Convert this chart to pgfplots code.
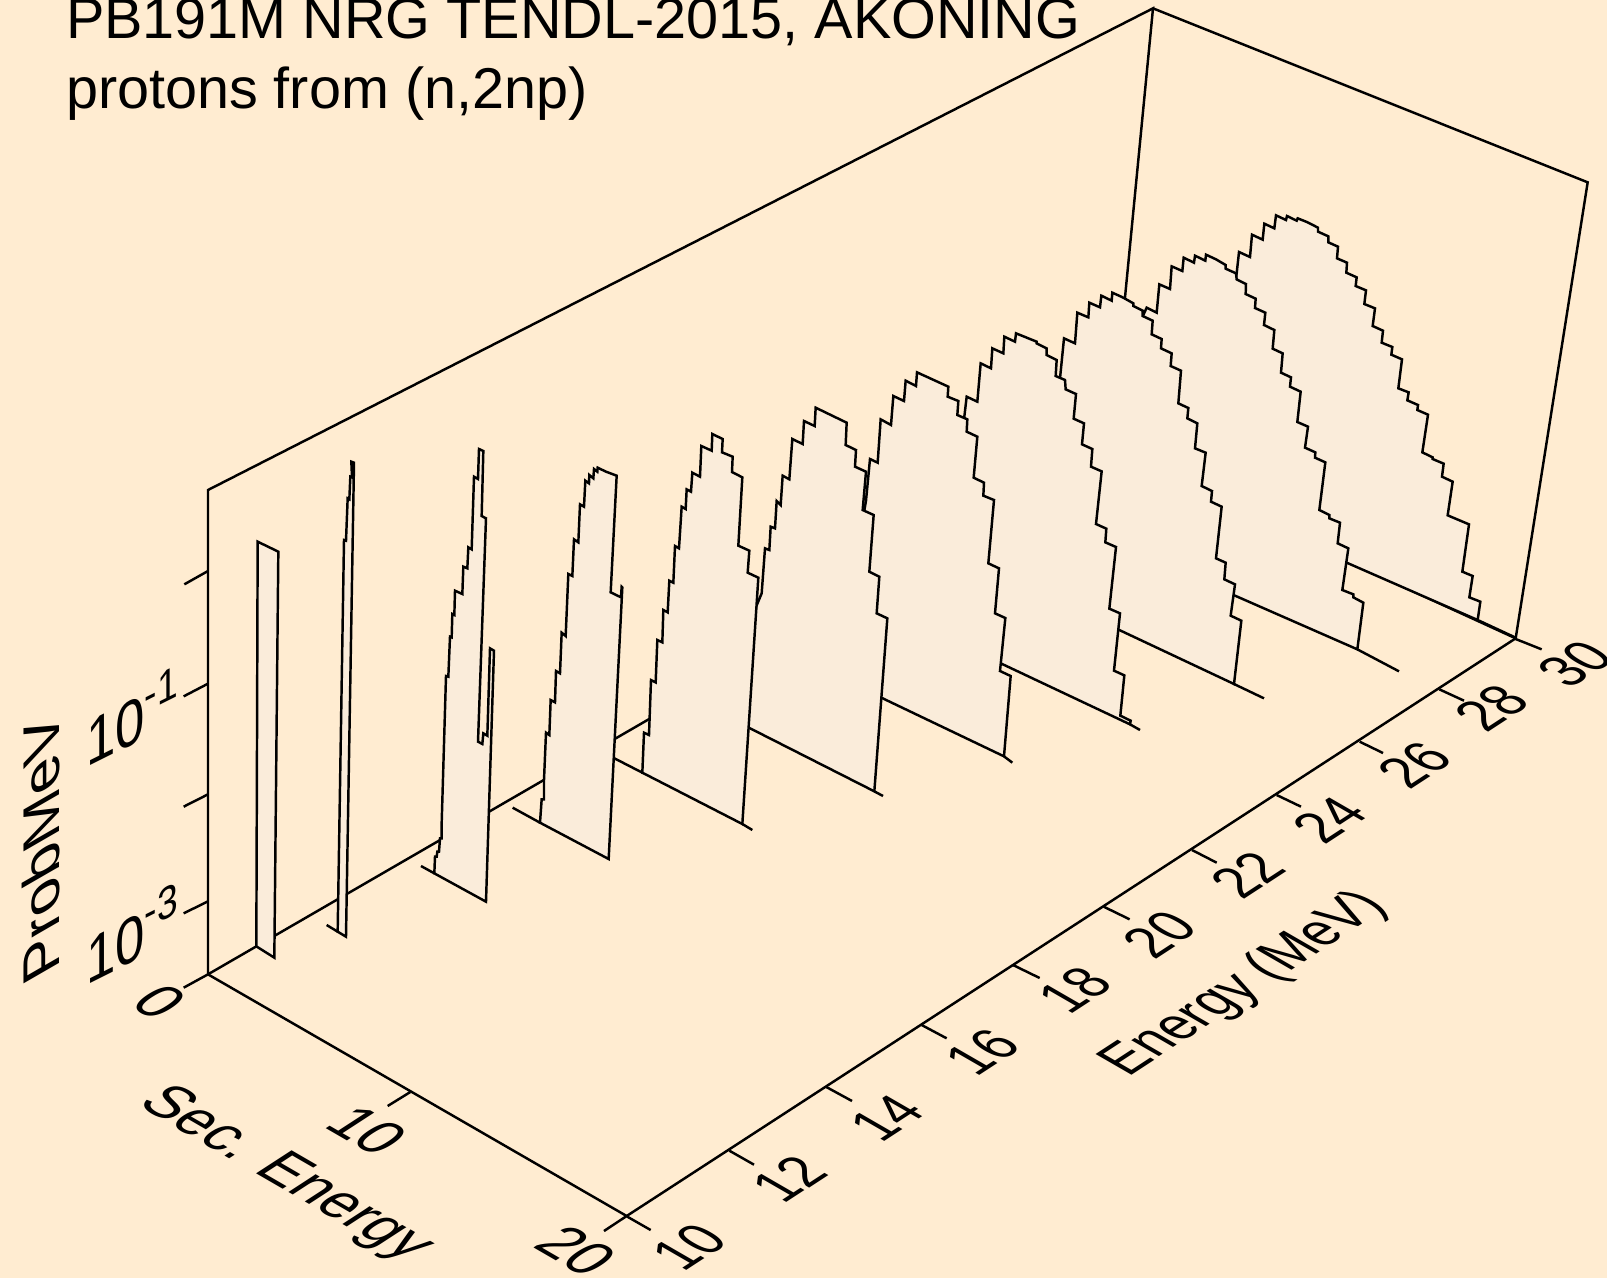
\documentclass[border=0pt]{standalone}
\usepackage{fontspec}
\setmainfont{Liberation Sans}
\usepackage{pgfplots}
\pgfplotsset{compat=1.18}
\definecolor{bgc}{RGB}{255,236,209}
\definecolor{fillc}{RGB}{250,236,218}
\newcommand{\lf}{\fontsize{16.33pt}{16.33pt}\selectfont}
\newcommand{\supr}[1]{\raisebox{0.4em}{\fontsize{11.5pt}{11.5pt}\selectfont #1}}
\tikzset{
  ln/.style={black, line width=0.7pt, mark=none, line join=miter},
  curve/.style={ln, fill=fillc},
  lab/.style={inner sep=0pt, outer sep=0pt, transform shape, anchor=base west, font=\lf},
  slab/.style={lab, cm={0.855,-0.495,0.9,0.585,(0,0)}},
  elab/.style={lab, cm={0.735,0.48,-0.91,0.525,(0,0)}},
  zlab/.style={lab, cm={0.92,0.46,0,1.13,(0,0)}},
}
\begin{document}
\begin{tikzpicture}
\useasboundingbox (0,0) rectangle (16.07cm,12.78cm);
\clip (0,0) rectangle (16.07cm,12.78cm);
\fill[bgc] (0,0) rectangle (16.07cm,12.78cm);
\begin{axis}[
  scale only axis, width=16.07cm, height=12.78cm,
  xmin=0, xmax=4821, ymin=0, ymax=3834, y dir=reverse,
  hide axis, clip=false,
]
% back edges of the box
\addplot[ln] coordinates {(624,2923)(3330,1357)(3459,25)(624,1470)(624,2923)};
\addplot[ln] coordinates {(3459,25)(4763,547)(4547,1915)};
\addplot[ln] coordinates {(3330,1357)(4547,1915)};
% E = 30
\addplot[curve] table[row sep=crcr] {x y\\
3590 1491\\3710 820\\3717 756\\3750 771\\3756 704\\3788 719\\3793 671\\3823 685\\3828 646\\3858 660\\3861 648\\3890 662\\3893 655\\3923 667\\3954 683\\3954 695\\3985 709\\3985 727\\4014 740\\4011 775\\4041 788\\4039 818\\4070 832\\4067 858\\4098 871\\4093 912\\4125 925\\4118 978\\4149 992\\4145 1028\\4177 1041\\4174 1064\\4206 1078\\4195 1165\\4226 1177\\4222 1201\\4254 1215\\4252 1230\\4284 1244\\4267 1357\\4298 1372\\4298 1377\\4331 1391\\4326 1430\\4358 1445\\4343 1546\\4407 1573\\4387 1715\\4418 1728\\4408 1792\\4441 1805\\4433 1860\\
} --cycle;
\addplot[ln] coordinates {(4433,1860)(4545,1912)};
% E = 28
\addplot[curve] table[row sep=crcr] {x y\\
3320 1618\\3430 945\\3440 923\\3470 938\\3478 853\\3510 867\\3515 799\\3547 813\\3551 773\\3582 788\\3585 767\\3616 782\\3618 764\\3648 778\\3677 795\\3677 806\\3708 820\\3710 838\\3738 852\\3737 882\\3767 896\\3765 924\\3796 938\\3792 975\\3823 990\\3818 1046\\3848 1060\\3843 1118\\3873 1132\\3870 1160\\3902 1175\\3892 1266\\3924 1280\\3915 1343\\3946 1357\\3945 1373\\3976 1387\\3958 1530\\3988 1545\\3988 1555\\4020 1568\\4013 1630\\4045 1645\\4027 1770\\4060 1783\\4060 1792\\4090 1808\\4072 1948\\
} --cycle;
\addplot[ln] coordinates {(4072,1948)(4197,2014)};
% E = 26
\addplot[curve] table[row sep=crcr] {x y\\
3050 1745\\3180 1135\\3192 1015\\3225 1030\\3232 938\\3265 952\\3268 908\\3300 922\\3304 887\\3335 902\\3337 878\\3368 892\\3400 910\\3400 918\\3428 932\\3428 948\\3458 962\\3455 1003\\3485 1017\\3483 1045\\3515 1060\\3512 1098\\3543 1112\\3535 1210\\3565 1224\\3562 1255\\3592 1270\\3585 1345\\3617 1358\\3605 1458\\3636 1473\\3633 1505\\3665 1520\\3648 1675\\3677 1688\\3673 1738\\3705 1753\\3692 1847\\3724 1862\\3702 2052\\
} --cycle;
\addplot[ln] coordinates {(3702,2052)(3792,2095)};
% E = 24
\addplot[curve] table[row sep=crcr] {x y\\
2820 1904\\2893 1250\\2900 1190\\2932 1205\\2942 1090\\2973 1105\\2977 1045\\3010 1060\\3013 1010\\3045 1025\\3048 1000\\3110 1025\\3110 1030\\3140 1045\\3140 1065\\3170 1080\\3167 1128\\3195 1140\\3197 1168\\3228 1182\\3221 1256\\3252 1270\\3246 1333\\3277 1347\\3273 1400\\3305 1414\\3288 1572\\3319 1586\\3316 1627\\3348 1641\\3328 1826\\3360 1840\\3342 2012\\3373 2026\\3361 2147\\3392 2162\\3390 2173\\
} --cycle;
\addplot[ln] coordinates {(3390,2173)(3420,2190)};
% E = 22
\addplot[curve] table[row sep=crcr] {x y\\
2510 2029\\2598 1502\\2610 1377\\2633 1388\\2642 1258\\2673 1275\\2680 1188\\2712 1203\\2717 1142\\2748 1158\\2751 1117\\2845 1160\\2843 1190\\2875 1203\\2872 1245\\2902 1258\\2900 1295\\2932 1310\\2921 1433\\2952 1448\\2950 1487\\2982 1500\\2965 1690\\2997 1705\\2985 1840\\3016 1854\\3000 2013\\3032 2028\\3012 2269\\
} --cycle;
\addplot[ln] coordinates {(3012,2269)(3037,2288)};
% E = 20
\addplot[curve] table[row sep=crcr] {x y\\
2140 2129\\2285 1780\\2295 1645\\2308 1650\\2312 1580\\2325 1585\\2330 1503\\2342 1515\\2348 1427\\2368 1438\\2377 1317\\2408 1332\\2412 1263\\2444 1278\\2447 1223\\2540 1268\\2537 1335\\2568 1350\\2565 1400\\2598 1415\\2588 1530\\2621 1545\\2608 1715\\2638 1730\\2630 1840\\2662 1855\\2623 2374\\
} --cycle;
\addplot[ln] coordinates {(2623,2374)(2649,2388)};
% E = 18
\addplot[curve] table[row sep=crcr] {x y\\
1927 2318\\1932 2198\\1947 2205\\1953 2040\\1967 2047\\1972 1920\\1987 1927\\1990 1830\\2003 1837\\2008 1742\\2020 1748\\2025 1638\\2037 1645\\2045 1520\\2057 1527\\2060 1468\\2073 1475\\2077 1418\\2100 1430\\2104 1338\\2135 1352\\2137 1302\\2168 1317\\2166 1357\\2198 1370\\2196 1416\\2227 1432\\2215 1637\\2248 1652\\2243 1718\\2275 1733\\2227 2472\\
} --cycle;
\addplot[ln] coordinates {(1820,2263)(1927,2318)};
\addplot[ln] coordinates {(2227,2472)(2257,2490)};
% E = 16
\addplot[curve] table[row sep=crcr] {x y\\
1620 2468\\1625 2398\\1632 2398\\1632 2340\\1638 2198\\1648 2205\\1652 2100\\1665 2107\\1668 2013\\1680 2020\\1685 1898\\1697 1908\\1705 1722\\1717 1728\\1722 1618\\1735 1627\\1740 1513\\1752 1520\\1756 1442\\1767 1450\\1768 1425\\1780 1435\\1782 1407\\1792 1415\\1793 1403\\1818 1415\\1850 1427\\1832 1777\\1863 1792\\1865 1760\\1867 1762\\1826 2577\\
} --cycle;
\addplot[ln] coordinates {(1538,2423)(1620,2468)};
% E = 14
\addplot[curve] table[row sep=crcr] {x y\\
1303 2620\\1305 2570\\1310 2570\\1312 2555\\1317 2555\\1320 2515\\1325 2515\\1325 2470\\1338 2028\\1345 2030\\1350 1910\\1355 1912\\1357 1842\\1363 1845\\1365 1772\\1387 1782\\1390 1700\\1402 1705\\1405 1642\\1415 1648\\1422 1430\\1434 1437\\1437 1347\\1450 1353\\1445 1548\\1458 1555\\1434 2225\\1447 2232\\1450 2200\\1462 2207\\1470 1945\\1482 1952\\1458 2705\\
} --cycle;
\addplot[ln] coordinates {(1263,2598)(1303,2620)};
% E = 12
\addplot[curve] table[row sep=crcr] {x y\\
1013 2795\\1032 1620\\1038 1622\\1043 1495\\1048 1498\\1051 1430\\1056 1432\\1054 1385\\1062 1388\\1038 2810\\
} --cycle;
\addplot[ln] coordinates {(980,2775)(1013,2795)};
% E = 11
\addplot[curve] table[row sep=crcr] {x y\\
769 2839\\773 1625\\835 1655\\823 2873\\
} --cycle;
% front edges of the box
\addplot[ln] coordinates {(624,2923)(1880,3648)(4547,1915)};
% ticks
\addplot[ln] coordinates {(551,2963)(624,2923)};
\addplot[ln] coordinates {(551,2740)(624,2704)};
\addplot[ln] coordinates {(551,2420)(624,2383)};
\addplot[ln] coordinates {(551,2089)(624,2051)};
\addplot[ln] coordinates {(553,1753)(624,1713)};
\addplot[ln] coordinates {(1163,3318)(1231,3276)};
\addplot[ln] coordinates {(1812,3693)(1880,3648)};
\addplot[ln] coordinates {(1882,3650)(1952,3690)};
\addplot[ln] coordinates {(2188,3452)(2262,3494)};
\addplot[ln] coordinates {(2479,3261)(2556,3303)};
\addplot[ln] coordinates {(2765,3075)(2840,3115)};
\addplot[ln] coordinates {(3041,2896)(3119,2934)};
\addplot[ln] coordinates {(3311,2720)(3389,2758)};
\addplot[ln] coordinates {(3576,2550)(3650,2588)};
\addplot[ln] coordinates {(3830,2385)(3903,2420)};
\addplot[ln] coordinates {(4079,2225)(4149,2259)};
\addplot[ln] coordinates {(4318,2068)(4392,2102)};
\addplot[ln] coordinates {(4547,1917)(4625,1948)};
% titles
\node[inner sep=0pt, anchor=base west, font=\fontsize{16.38pt}{16.38pt}\selectfont] at (axis cs:196,116) {PB191M NRG TENDL-2015, AKONING};
\node[inner sep=0pt, anchor=base west, font=\fontsize{16.38pt}{16.38pt}\selectfont] at (axis cs:196,325) {protons from (n,2np)};
% secondary energy axis labels
\node[slab] at (axis cs:386,3016) {0};
\node[slab] at (axis cs:966,3378) {10};
\node[slab] at (axis cs:1593,3740) {20};
\node[slab] at (axis cs:408,3313) {Sec. Energy};
% energy axis labels
\node[elab] at (axis cs:2051,3817) {10};
\node[elab] at (axis cs:2351,3614) {12};
\node[elab] at (axis cs:2643,3430) {14};
\node[elab] at (axis cs:2930,3233) {16};
\node[elab] at (axis cs:3207,3047) {18};
\node[elab] at (axis cs:3463,2880) {20};
\node[elab] at (axis cs:3727,2701) {22};
\node[elab] at (axis cs:3972,2537) {24};
\node[elab] at (axis cs:4228,2371) {26};
\node[elab] at (axis cs:4458,2201) {28};
\node[elab] at (axis cs:4709,2068) {30};
\node[elab] at (axis cs:3386,3231) {Energy (MeV)};
% probability axis labels
\node[zlab] at (axis cs:258,2955) {10\supr{-3}};
\node[zlab] at (axis cs:258,2303) {10\supr{-1}};
\node[lab, cm={0,1.09,-0.9,-0.52,(0,0)}] at (axis cs:178,2906) {ProbMeV};
\end{axis}
\end{tikzpicture}
\end{document}
